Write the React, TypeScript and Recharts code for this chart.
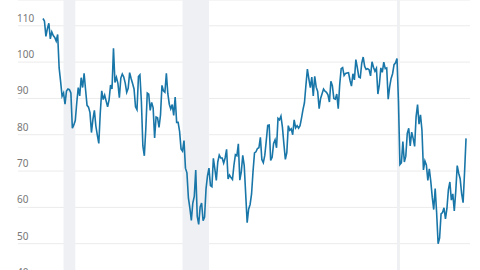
import { LineChart, Line, XAxis, YAxis, CartesianGrid, ReferenceArea } from "recharts";

// University of Michigan consumer sentiment, monthly, Jan 2000 onward
const sentiment2000s = [
  112.0, 111.3, 107.1, 109.2, 110.7, 106.4, 108.3, 107.3, 106.8, 105.8, 107.6, 98.4,
  94.7, 90.6, 91.5, 88.4, 92.0, 92.6, 92.4, 91.5, 81.8, 82.7, 83.9, 88.8,
  93.0, 90.7, 95.7, 93.0, 96.9, 92.4, 88.1, 87.6, 86.1, 80.6, 84.2, 86.7,
  82.4, 79.9, 77.6, 86.0, 92.1, 89.7, 90.9, 89.3, 87.7, 89.6, 93.7, 92.6,
  103.8, 94.4, 95.8, 94.2, 90.2, 95.6, 96.7, 95.9, 94.2, 91.7, 92.8, 97.1,
  95.5, 94.1, 92.6, 87.7, 86.9, 96.0, 96.5, 89.1, 76.9, 74.2, 81.6, 91.5,
  91.2, 86.7, 88.9, 87.4, 79.1, 84.9, 84.7, 82.0, 85.4, 93.6, 92.1, 91.7,
  96.9, 91.3, 88.4, 87.1, 88.3, 85.3, 90.4, 83.4, 83.4, 80.9, 76.1, 75.5,
  78.4, 70.8, 69.5, 62.6, 59.8, 56.4, 61.2, 63.0, 70.3, 57.6, 55.3, 60.1,
  61.2, 56.3, 57.3, 65.1, 68.7, 70.8, 66.0, 65.7, 73.5, 70.6, 67.4, 72.5,
];
const sentiment2010s = [
  74.4, 73.6, 73.6, 72.2, 73.6, 76.0, 67.8, 68.9, 68.2, 67.7, 71.6, 74.5,
  74.2, 77.5, 67.5, 69.8, 74.3, 71.5, 63.7, 55.8, 59.5, 60.8, 63.7, 69.9,
  75.0, 75.3, 76.2, 76.4, 79.3, 73.2, 72.3, 74.3, 78.3, 82.6, 82.7, 72.9,
  73.8, 77.6, 78.6, 76.4, 84.5, 84.1, 85.1, 82.1, 77.5, 73.2, 75.1, 82.5,
  81.2, 81.6, 80.0, 84.1, 81.9, 82.5, 81.8, 82.5, 84.6, 86.9, 88.8, 93.6,
  98.1, 95.4, 93.0, 95.9, 90.7, 96.1, 93.1, 91.9, 87.2, 90.0, 91.3, 92.6,
  92.0, 91.7, 91.0, 89.0, 94.7, 93.5, 90.0, 89.8, 91.2, 87.2, 93.8, 98.2,
  98.5, 96.3, 96.9, 97.0, 97.1, 95.0, 93.4, 96.8, 95.1, 100.7, 98.5, 95.9,
  95.7, 99.7, 101.4, 98.8, 98.0, 98.2, 97.9, 96.2, 100.1, 98.6, 97.5, 98.3,
  91.2, 93.8, 98.4, 97.2, 100.0, 98.2, 98.4, 89.8, 93.2, 95.5, 96.8, 99.3,
];
const sentiment2020s = [
  99.8, 101.0, 89.1, 71.8, 72.3, 78.1, 72.5, 74.1, 80.4, 81.8, 76.9, 80.7,
  79.0, 76.8, 84.9, 88.3, 82.9, 85.5, 81.2, 70.3, 72.8, 71.7, 67.4, 70.6,
  67.2, 62.8, 59.4, 65.2, 58.4, 50.0, 51.5, 58.2, 58.6, 59.9, 56.8, 59.7,
  64.9, 67.0, 62.0, 63.7, 59.0, 64.4, 71.5, 69.4, 67.9, 63.8, 61.3, 69.7,
  79.0,
];

// recessions as [start, end] month index from Jan 2000
const recessions = [
  [14, 22],
  [95, 113],
  [241, 243],
];

const yTicks = [40, 50, 60, 70, 80, 90, 100, 110];

const values = [...sentiment2000s, ...sentiment2010s, ...sentiment2020s];
const data = values.map((v, i) => ({ t: i, value: v }));

const renderYTick = (props: any) => (
  <text
    key={props.index}
    x={17}
    y={props.y - 4}
    fill="#777"
    fontSize={10}
    fontFamily="Noto Sans, sans-serif"
    textAnchor="start"
  >
    {props.payload.value}
  </text>
);

export default function App() {
  return (
    <div style={{ position: "absolute", top: 0, left: 0, width: 480, height: 270, overflow: "hidden", background: "#fff" }}>
      <LineChart width={480} height={290} data={data} margin={{ top: 0, right: 10, bottom: 10, left: 0 }}>
        {recessions.map(([a, b], i) => (
          <ReferenceArea key={i} x1={a} x2={b} fill="#eef0f3" fillOpacity={1} stroke="none" ifOverflow="visible" />
        ))}
        <CartesianGrid vertical={false} stroke="#ebebeb" strokeWidth={1} />
        <XAxis dataKey="t" type="number" domain={[-17, 290.7]} hide />
        <YAxis
          domain={[40, 117.1]}
          ticks={yTicks}
          width={18}
          axisLine={false}
          tickLine={false}
          tick={renderYTick}
          allowDataOverflow
        />
        <Line
          type="linear"
          dataKey="value"
          stroke="#1976a8"
          strokeWidth={1.6}
          dot={false}
          isAnimationActive={false}
        />
      </LineChart>
    </div>
  );
}
